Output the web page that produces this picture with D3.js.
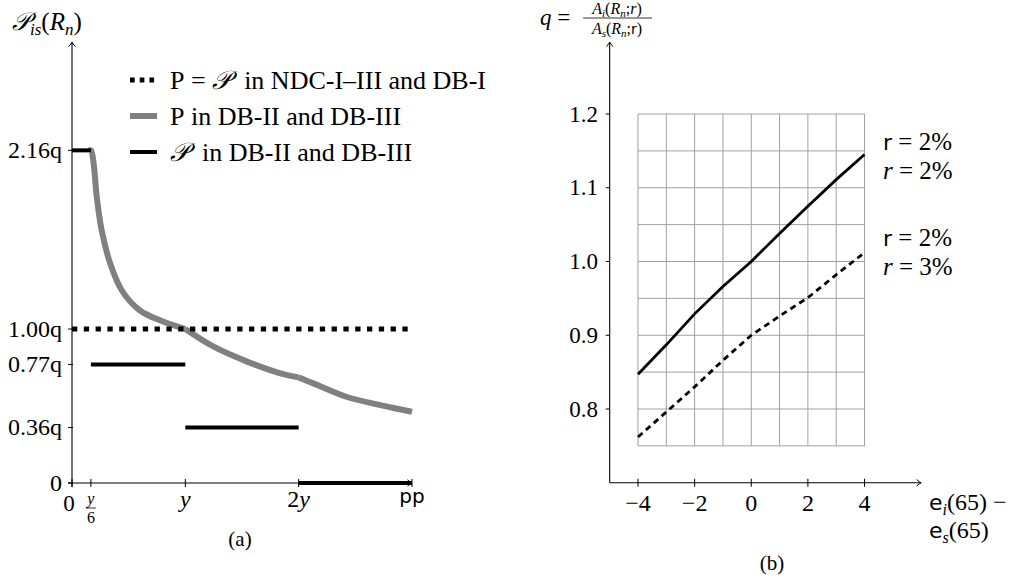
<!DOCTYPE html>
<html>
<head>
<meta charset="utf-8">
<script src="https://cdn.jsdelivr.net/npm/d3@7"></script>
<style>
  html, body { margin: 0; padding: 0; background: #fff; }
</style>
</head>
<body>
<div id="chart"></div>
<script>
// ---- panel (a) data ----
const aTickVals = [0, 0.36, 0.77, 1.00, 2.16];
const aTickLabels = ['0', '0.36q', '0.77q', '1.00q', '2.16q'];
const aXTicks = [0, 1 / 6, 1, 2, 3];          // in units of y
const flatLevel = 1.00;                      // P = 𝒫 in NDC / DB-I
// 𝒫 in DB-II / DB-III, step segments
const stepStart = [0, 1 / 6, 1, 2];
const stepEnd = [1 / 6, 1, 2, 3];
const stepVal = [2.16, 0.77, 0.36, 0];
// P in DB-II / DB-III (gray curve), one piece per interval
const curveX1 = [0.15, 0.167, 0.19, 0.218, 0.262, 0.335, 0.44, 0.60, 0.78, 1.0];
const curveY1 = [2.16, 2.16, 2.08, 1.86, 1.64, 1.43, 1.25, 1.12, 1.055, 1.0];
const curveX2 = [1.0, 1.25, 1.54, 1.84, 2.0];
const curveY2 = [1.0, 0.885, 0.79, 0.712, 0.686];
const curveX3 = [2.0, 2.13, 2.42, 2.72, 3.0];
const curveY3 = [0.686, 0.647, 0.56, 0.506, 0.463];

// ---- panel (b) data ----
const bX = [-4, -3, -2, -1, 0, 1, 2, 3, 4];
const solidQ = [0.847, 0.887, 0.929, 0.966, 1.0, 1.038, 1.075, 1.111, 1.145];
const dashedQ = [0.762, 0.796, 0.830, 0.866, 0.900, 0.926, 0.951, 0.982, 1.012];
const bYTicks = [0.8, 0.9, 1.0, 1.1, 1.2];
const bXTicks = [-4, -2, 0, 2, 4];

const SERIF = '"Liberation Serif", "DejaVu Serif", "Times New Roman", serif';
const SANS = '"DejaVu Sans", "Liberation Sans", sans-serif';
const NBSP = '\u00A0';

const width = 1016, height = 581;
const svg = d3.select('#chart').append('svg')
  .attr('width', width).attr('height', height)
  .attr('font-family', SERIF);

// small helper so every label gets the serif face explicitly
function txt(g, x, y, size) {
  return g.append('text').attr('x', x).attr('y', y)
    .attr('font-family', SERIF).attr('font-size', size).attr('fill', '#000');
}

// little pgf-like arrow tip
function arrowTip(g, x, y, angle) {
  g.append('path')
    .attr('d', 'M-4.5,-3.2 Q-1.5,-0.6 0,0 Q-1.5,0.6 -4.5,3.2')
    .attr('transform', `translate(${x},${y}) rotate(${angle})`)
    .attr('fill', 'none').attr('stroke', '#000').attr('stroke-width', 1);
}

// ================= panel (a) =================
const ax = d3.scaleLinear().domain([0, 3]).range([72, 412]);
const ay = d3.scaleLinear().domain([0, 1]).range([483, 329]);
const ga = svg.append('g');

// axes
ga.append('line').attr('x1', ax(0)).attr('x2', ax(0)).attr('y1', ay(0) + 4).attr('y2', 42)
  .attr('stroke', '#000').attr('stroke-width', 1.1);
arrowTip(ga, ax(0), 42, -90);
ga.append('line').attr('x1', ax(0) - 4).attr('x2', ax(3)).attr('y1', ay(0)).attr('y2', ay(0))
  .attr('stroke', '#000').attr('stroke-width', 1.1);
arrowTip(ga, ax(3), ay(0), 0);

// y ticks
aTickVals.forEach((v, i) => {
  ga.append('line').attr('x1', ax(0) - 4).attr('x2', ax(0) + 1).attr('y1', ay(v)).attr('y2', ay(v))
    .attr('stroke', '#000').attr('stroke-width', 1);
  txt(ga, 62, ay(v), 24).attr('dy', '0.33em').attr('text-anchor', 'end').text(aTickLabels[i]);
});
// x ticks
aXTicks.forEach(v => {
  ga.append('line').attr('x1', ax(v)).attr('x2', ax(v)).attr('y1', ay(0) - 4).attr('y2', ay(0) + 4)
    .attr('stroke', '#000').attr('stroke-width', 1);
});
txt(ga, ax(0) - 3, 511, 23).attr('text-anchor', 'middle').text('0');
// y/6 fraction
txt(ga, ax(1 / 6), 504, 16).attr('text-anchor', 'middle').attr('font-style', 'italic').text('y');
ga.append('line').attr('x1', ax(1 / 6) - 5).attr('x2', ax(1 / 6) + 5).attr('y1', 508).attr('y2', 508)
  .attr('stroke', '#000').attr('stroke-width', 0.8);
txt(ga, ax(1 / 6), 523, 16).attr('text-anchor', 'middle').text('6');
txt(ga, ax(1), 507, 24).attr('text-anchor', 'middle').attr('font-style', 'italic').text('y');
const t2y = txt(ga, ax(2), 507, 24).attr('text-anchor', 'middle');
t2y.append('tspan').text('2');
t2y.append('tspan').attr('font-style', 'italic').text('y');
ga.append('text').attr('font-family', SANS).attr('x', ax(3)).attr('y', 503).attr('text-anchor', 'middle')
  .attr('font-size', 20).text('pp');

// y label
const ylab = txt(ga, 12, 30, 25);
ylab.append('tspan').attr('font-style', 'italic').text('𝒫');
ylab.append('tspan').attr('dy', 5).attr('font-size', 17).attr('font-style', 'italic').text('is');
ylab.append('tspan').attr('dy', -5).text('(');
ylab.append('tspan').attr('font-style', 'italic').text('R');
ylab.append('tspan').attr('dy', 5).attr('font-size', 17).attr('font-style', 'italic').text('n');
ylab.append('tspan').attr('dy', -5).text(')');

// gray curve
const curveLine = d3.line().x(d => ax(d[0])).y(d => ay(d[1])).curve(d3.curveCatmullRom.alpha(0.5));
[[curveX1, curveY1], [curveX2, curveY2], [curveX3, curveY3]].forEach(([xs, ys]) => {
  ga.append('path').datum(xs.map((x, i) => [x, ys[i]]))
    .attr('d', curveLine).attr('fill', 'none')
    .attr('stroke', '#808080').attr('stroke-width', 6);
});

// dotted level
ga.append('line').attr('x1', ax(0)).attr('x2', ax(3)).attr('y1', ay(flatLevel)).attr('y2', ay(flatLevel))
  .attr('stroke', '#000').attr('stroke-width', 5).attr('stroke-dasharray', '5.3,6.5');

// step segments
stepVal.forEach((v, i) => {
  ga.append('line').attr('x1', ax(stepStart[i])).attr('x2', ax(stepEnd[i]))
    .attr('y1', ay(v)).attr('y2', ay(v))
    .attr('stroke', '#000').attr('stroke-width', 4);
});

// legend
const legend = [
  { label: ['P = ', '𝒫', NBSP + NBSP + 'in NDC-I–III and DB-I'], stroke: '#000', w: 5, dash: '4.7,5' },
  { label: ['P in DB-II and DB-III'], stroke: '#808080', w: 6, dash: null },
  { label: ['', '𝒫', NBSP + NBSP + 'in DB-II and DB-III'], stroke: '#000', w: 4, dash: null }
];
const legY = [80, 116, 152];
legend.forEach((d, i) => {
  ga.append('line').attr('x1', 130).attr('x2', 157).attr('y1', legY[i]).attr('y2', legY[i])
    .attr('stroke', d.stroke).attr('stroke-width', d.w).attr('stroke-dasharray', d.dash);
  const t = txt(ga, 170, legY[i], 26).attr('dy', '0.33em');
  t.append('tspan').text(d.label[0].replace(/ /g, NBSP));
  if (d.label.length > 1) {
    t.append('tspan').attr('font-style', 'italic').text(d.label[1]);
    t.append('tspan').text(d.label[2]);
  }
});

txt(ga, 240, 546, 21).attr('text-anchor', 'middle').text('(a)');

// ================= panel (b) =================
const bx = d3.scaleLinear().domain([-4, 4]).range([638, 864.5]);
const by = d3.scaleLinear().domain([0.8, 1.2]).range([409, 114]);
const gb = svg.append('g');

// grid
d3.range(-4, 4.001, 1).forEach(v => {
  gb.append('line').attr('x1', bx(v)).attr('x2', bx(v)).attr('y1', by(0.75)).attr('y2', by(1.2))
    .attr('stroke', '#a0a0a0').attr('stroke-width', 1);
});
d3.range(0.75, 1.2001, 0.05).forEach(v => {
  gb.append('line').attr('x1', bx(-4)).attr('x2', bx(4)).attr('y1', by(v)).attr('y2', by(v))
    .attr('stroke', '#a0a0a0').attr('stroke-width', 1);
});

// axes
gb.append('line').attr('x1', bx(-5)).attr('x2', bx(-5)).attr('y1', by(0.7)).attr('y2', 42)
  .attr('stroke', '#000').attr('stroke-width', 1.1);
arrowTip(gb, bx(-5), 42, -90);
gb.append('line').attr('x1', bx(-5)).attr('x2', bx(6)).attr('y1', by(0.7)).attr('y2', by(0.7))
  .attr('stroke', '#000').attr('stroke-width', 1.1);
arrowTip(gb, bx(6), by(0.7), 0);

bYTicks.forEach(v => {
  gb.append('line').attr('x1', bx(-5) - 4).attr('x2', bx(-5)).attr('y1', by(v)).attr('y2', by(v))
    .attr('stroke', '#000').attr('stroke-width', 1);
  txt(gb, 598, by(v), 23).attr('dy', '0.33em').attr('text-anchor', 'end').text(v.toFixed(1));
});
bXTicks.forEach(v => {
  gb.append('line').attr('x1', bx(v)).attr('x2', bx(v)).attr('y1', by(0.7) - 4).attr('y2', by(0.7) + 4)
    .attr('stroke', '#000').attr('stroke-width', 1);
  txt(gb, bx(v), 511, 24).attr('text-anchor', 'middle').text(v < 0 ? '−' + Math.abs(v) : String(v));
});

const bLine = d3.line().x((d, i) => bx(bX[i])).y(d => by(d));
gb.append('path').datum(solidQ).attr('d', bLine).attr('fill', 'none')
  .attr('stroke', '#000').attr('stroke-width', 2.8);
gb.append('path').datum(dashedQ).attr('d', bLine).attr('fill', 'none')
  .attr('stroke', '#000').attr('stroke-width', 2.8).attr('stroke-dasharray', '6,4.5');

// series labels
const rLabels = [
  { sans: true, txt: ' = 2%', y: 150 },
  { sans: false, txt: ' = 2%', y: 179 },
  { sans: true, txt: ' = 2%', y: 246 },
  { sans: false, txt: ' = 3%', y: 275 }
];
rLabels.forEach(d => {
  const t = txt(gb, 883, d.y, 25);
  if (d.sans) t.append('tspan').attr('font-family', SANS).attr('font-size', 22).text('r');
  else t.append('tspan').attr('font-style', 'italic').text('r');
  t.append('tspan').text(d.txt.replace(/ /g, NBSP));
});

// x axis label
const xl1 = txt(gb, 929, 510, 24);
xl1.append('tspan').attr('font-family', SANS).attr('font-size', 22).text('e');
xl1.append('tspan').attr('dy', 5).attr('font-size', 16).attr('font-style', 'italic').text('i');
xl1.append('tspan').attr('dy', -5).text('(65)' + NBSP + '−');
const xl2 = txt(gb, 929, 538, 24);
xl2.append('tspan').attr('font-family', SANS).attr('font-size', 22).text('e');
xl2.append('tspan').attr('dy', 5).attr('font-size', 16).attr('font-style', 'italic').text('s');
xl2.append('tspan').attr('dy', -5).text('(65)');

// y axis label q = Ai / As
const ql = txt(gb, 540, 25, 23);
ql.append('tspan').attr('font-style', 'italic').text('q');
ql.append('tspan').text(NBSP + '=');
function fracPart(y, sub, rSans) {
  const t = txt(gb, 617, y, 16).attr('text-anchor', 'middle');
  t.append('tspan').attr('font-style', 'italic').text('A');
  t.append('tspan').attr('dy', 3).attr('font-size', 11).attr('font-style', 'italic').text(sub);
  t.append('tspan').attr('dy', -3).text('(');
  t.append('tspan').attr('font-style', 'italic').text('R');
  t.append('tspan').attr('dy', 3).attr('font-size', 11).attr('font-style', 'italic').text('n');
  t.append('tspan').attr('dy', -3).text(';');
  if (rSans) t.append('tspan').attr('font-family', SANS).attr('font-size', 14).text('r');
  else t.append('tspan').attr('font-style', 'italic').text('r');
  t.append('tspan').text(')');
}
fracPart(14, 'i', false);
gb.append('line').attr('x1', 583).attr('x2', 652).attr('y1', 18).attr('y2', 18)
  .attr('stroke', '#000').attr('stroke-width', 0.8);
fracPart(34, 's', true);

txt(gb, 772, 570, 21).attr('text-anchor', 'middle').text('(b)');
</script>
</body>
</html>
